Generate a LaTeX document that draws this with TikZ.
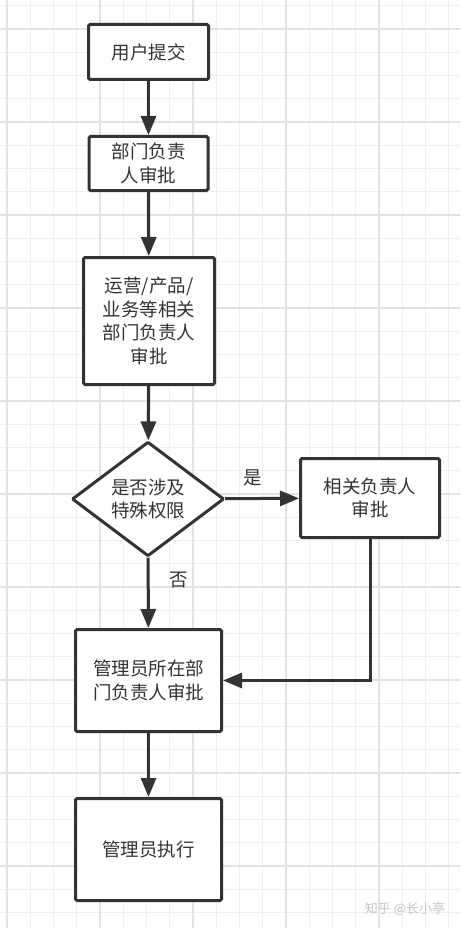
\documentclass[tikz,border=0pt]{standalone}
\usepackage{fontspec}
\setmainfont{Noto Sans CJK SC}
\usetikzlibrary{shapes.geometric,arrows.meta}
\definecolor{ink}{HTML}{333333}
\definecolor{gridminor}{HTML}{EFEFEF}
\definecolor{gridmajor}{HTML}{E2E2E2}
\definecolor{mark}{HTML}{C4C4C4}
\begin{document}
\begin{tikzpicture}
  [x=1pt,y=-1pt,
   box/.style={draw=ink,fill=white,line width=3pt,rounded corners=1.5pt,
     align=center,text=ink,inner sep=0pt,
     font=\fontsize{18.5}{23.5}\selectfont},
   decision/.style={box,diamond,rounded corners=1pt},
   flow/.style={draw=ink,line width=3pt,-{Triangle[length=19pt,width=15pt]}},
   tag/.style={text=ink,inner sep=0pt,font=\fontsize{18.5}{23.5}\selectfont}]
  \useasboundingbox (0,0) rectangle (460,928);
  \fill[white] (0,0) rectangle (460,928);
  \foreach \k in {0,...,19}
    \draw[gridminor,line width=1pt] ({7+23.25*\k},0) -- ({7+23.25*\k},928);
  \foreach \k in {0,...,39}
    \draw[gridminor,line width=1pt] (0,{5.75+23.25*\k}) -- (460,{5.75+23.25*\k});
  \foreach \k in {0,...,4}
    \draw[gridmajor,line width=1.3pt] ({7+93*\k},0) -- ({7+93*\k},928);
  \foreach \k in {0,...,9}
    \draw[gridmajor,line width=1.3pt] (0,{29+93*\k}) -- (460,{29+93*\k});

  \node[box,minimum width=120pt,minimum height=55pt] (submit) at (148.5,52) {用户提交};
  \node[box,minimum width=119pt,minimum height=54pt] (deptlead) at (148.5,163.5) {部门负责\\人审批};
  \node[box,minimum width=131pt,minimum height=127pt] (opslead) at (149,321) {运营/产品/\\业务等相关\\部门负责人\\审批};
  \node[decision,minimum width=152pt,minimum height=110pt] (check) at (148,499) {是否涉及\\特殊权限};
  \node[box,minimum width=139pt,minimum height=79pt] (related) at (370,498) {相关负责人\\审批};
  \node[box,minimum width=146pt,minimum height=102pt] (admindept) at (148.5,680.5) {管理员所在部\\门负责人审批};
  \node[box,minimum width=146pt,minimum height=102pt] (exec) at (148.5,849.5) {管理员执行};
  \node[tag] (yes) at (253,478) {是};
  \node[tag] (no) at (179,580) {否};
  \node[text=mark,inner sep=0pt,font=\fontsize{13}{13}\selectfont] (watermark) at (405,909) {知乎 @长小亭};

  \draw[flow] (submit) -- (deptlead);
  \draw[flow] (deptlead) -- (opslead);
  \draw[flow] (opslead) -- (check);
  \draw[flow] (check) -- (related);
  \draw[flow] (check) -- (admindept);
  \draw[flow] (related.south) |- (admindept.east);
  \draw[flow] (admindept) -- (exec);

\end{tikzpicture}
\end{document}
